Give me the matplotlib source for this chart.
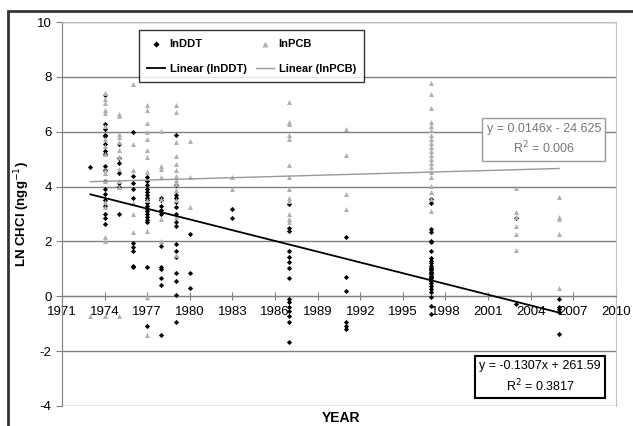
import matplotlib.pyplot as plt
import numpy as np
from matplotlib.patches import Rectangle

plt.rcParams['font.family'] = ['Liberation Sans', 'DejaVu Sans']
plt.rcParams['axes.unicode_minus'] = False

# lnDDT values per sampling year
ddt_years = [1973, 1974, 1975, 1976, 1977, 1978, 1979, 1980, 1983, 1987, 1991, 1997, 2003, 2006]
ddt_values = [
    [4.7],
    [7.35, 6.3, 6.1, 5.9, 5.85, 5.55, 5.3, 5.2, 4.75, 4.6, 4.2, 3.9, 3.75, 3.5, 3.3, 3.0, 2.85, 2.65],
    [5.55, 5.05, 4.85, 4.5, 4.15, 4.0, 3.0],
    [6.0, 4.4, 4.15, 3.9, 3.6, 1.95, 1.8, 1.65, 1.12, 1.08],
    [4.35, 4.2, 4.05, 3.9, 3.8, 3.7, 3.6, 3.5, 3.4, 3.3, 3.2, 3.1, 3.0, 2.9, 2.8, 2.7, 1.07, -1.1],
    [3.6, 3.5, 3.3, 3.15, 3.0, 1.85, 1.08, 1.0, 0.65, 0.4, -1.4],
    [5.9, 4.05, 3.7, 3.6, 3.45, 3.25, 3.0, 2.7, 2.55, 1.9, 1.65, 1.42, 0.84, 0.57, 0.03, -0.95],
    [2.28, 0.84, 0.31],
    [3.19, 2.86],
    [3.38, 2.5, 2.4, 1.67, 1.42, 1.24, 1.02, 0.66, -0.1, -0.2, -0.38, -0.52, -0.7, -0.95, -1.68],
    [2.18, 0.69, 0.2, -0.95, -1.07, -1.18],
    [3.55, 3.4, 2.46, 2.34, 2.03, 1.97, 1.67, 1.4, 1.3, 1.2, 1.1, 1.05, 1.0, 0.95, 0.9, 0.85,
     0.8, 0.75, 0.7, 0.65, 0.6, 0.55, 0.5, 0.39, 0.27, 0.15, -0.04, -0.34, -0.64],
    [2.86, -0.27],
    [-0.1, -0.38, -0.46, -0.58, -1.37],
]

# lnPCB values per sampling year
pcb_years = [1973, 1974, 1975, 1976, 1977, 1978, 1979, 1980, 1983, 1987, 1991, 1997, 2003, 2006]
pcb_values = [
    [-0.73],
    [7.4, 7.2, 7.04, 6.78, 6.67, 6.2, 5.74, 5.5, 5.2, 4.6, 4.5, 4.22, 3.43, 3.25, 2.15, 2.03, -0.73],
    [6.66, 6.56, 5.93, 5.8, 5.62, 5.32, 5.07, 4.65, 4.22, 3.98, -0.73],
    [7.73, 5.56, 4.61, 3.4, 3.0, 2.34],
    [6.96, 6.78, 6.31, 5.99, 5.74, 5.32, 5.07, 4.53, 3.5, 2.4, -0.04, -1.4],
    [6.02, 4.77, 4.65, 4.34, 3.55, 2.82, 2.03],
    [6.96, 6.72, 5.62, 5.13, 4.84, 4.6, 4.4, 4.25, 4.11, 3.86, 3.5, 2.88, 1.5],
    [5.68, 4.37, 3.25],
    [4.37, 3.9],
    [7.08, 6.35, 6.27, 5.87, 5.74, 4.8, 4.37, 3.93, 3.6, 3.49, 3.0, 2.83, 2.7],
    [6.1, 5.17, 3.75, 3.2],
    [7.77, 7.39, 6.86, 6.37, 6.2, 6.05, 5.9, 5.75, 5.6, 5.45, 5.3, 5.15, 5.0, 4.85, 4.7,
     4.55, 4.34, 4.04, 3.8, 3.56, 3.13],
    [3.94, 3.09, 2.9, 2.58, 2.28, 1.69],
    [3.61, 2.91, 2.82, 2.28, 0.31],
]

# trendline coefficients as printed on the chart
ddt_slope, ddt_icpt = -0.1307, 261.59
pcb_slope, pcb_icpt = 0.0146, -24.625
trend_range = [1973, 2006]

x_ticks = list(range(1971, 2011, 3))
y_ticks = list(range(-4, 11, 2))

ddt_x = [yr for yr, v in zip(ddt_years, ddt_values) for _ in v]
ddt_y = [val for v in ddt_values for val in v]
pcb_x = [yr for yr, v in zip(pcb_years, pcb_values) for _ in v]
pcb_y = [val for v in pcb_values for val in v]

fig = plt.figure(figsize=(6.33, 4.26), dpi=100)
ax = fig.add_axes([0.098, 0.047, 0.875, 0.901])

grey = '#b0b0b0'
for yv in y_ticks:
    ax.axhline(yv, color='#808080', lw=1, zorder=0)

tx = np.array(trend_range)
h1 = ax.scatter(ddt_x, ddt_y, marker='D', s=7, color='black', lw=0, zorder=3, label='lnDDT')
h2 = ax.scatter(pcb_x, pcb_y, marker='^', s=13, color=grey, lw=0, zorder=3, label='lnPCB')
l1, = ax.plot(tx, ddt_slope * tx + ddt_icpt, color='black', lw=1.3, zorder=4, label='Linear (lnDDT)')
l2, = ax.plot(tx, pcb_slope * tx + pcb_icpt, color='#999999', lw=1, zorder=4, label='Linear (lnPCB)')

ax.set_xlim(1971, 2010)
ax.set_ylim(-4, 10)
ax.set_xticks(x_ticks)
ax.set_yticks(y_ticks)

ax.spines['bottom'].set_position(('data', 0))
ax.spines['bottom'].set_color('#808080')
ax.spines['left'].set_color('#808080')
ax.spines['top'].set_color('#c0c0c0')
ax.spines['right'].set_color('#c0c0c0')
ax.tick_params(axis='x', direction='inout', length=6, color='#808080', labelsize=9.5, pad=4)
ax.tick_params(axis='y', direction='out', length=4, color='#808080', labelsize=9.5)

ax.set_ylabel('LN CHCl (ngg$^{-1}$)', fontsize=9.5, fontweight='bold')
ax.yaxis.set_label_coords(-0.054, 0.5)
fig.text(0.539, 0.019, 'YEAR', fontsize=10, fontweight='bold', ha='center', va='center')

leg = ax.legend(handles=[h1, l1, h2, l2], ncol=2, loc='upper left', bbox_to_anchor=(0.139, 0.979),
                borderaxespad=0, frameon=True, fancybox=False, edgecolor='black',
                prop={'weight': 'bold', 'size': 8}, handlelength=1.6, handletextpad=0.4,
                columnspacing=0.9, borderpad=0.75, labelspacing=1.35, markerscale=1.2)
leg.get_frame().set_linewidth(1)

ax.text(0.870, 0.694, 'y = 0.0146x - 24.625\nR$^2$ = 0.006', transform=ax.transAxes,
        ha='center', va='center', fontsize=9, color='#777777', linespacing=1.4,
        bbox=dict(boxstyle='square,pad=0.35', fc='white', ec='#999999', lw=1), zorder=5)
ax.text(0.863, 0.0755, 'y = -0.1307x + 261.59\nR$^2$ = 0.3817', transform=ax.transAxes,
        ha='center', va='center', fontsize=9, color='black', linespacing=1.4,
        bbox=dict(boxstyle='square,pad=0.35', fc='white', ec='black', lw=1.5), zorder=5)

# outer chart frame
fig.patches.append(Rectangle((8 / 633, -0.1), 1.2, 1.1 - 11 / 426, transform=fig.transFigure,
                             fill=False, ec='#333333', lw=2))

plt.savefig('out.png', dpi=100)
